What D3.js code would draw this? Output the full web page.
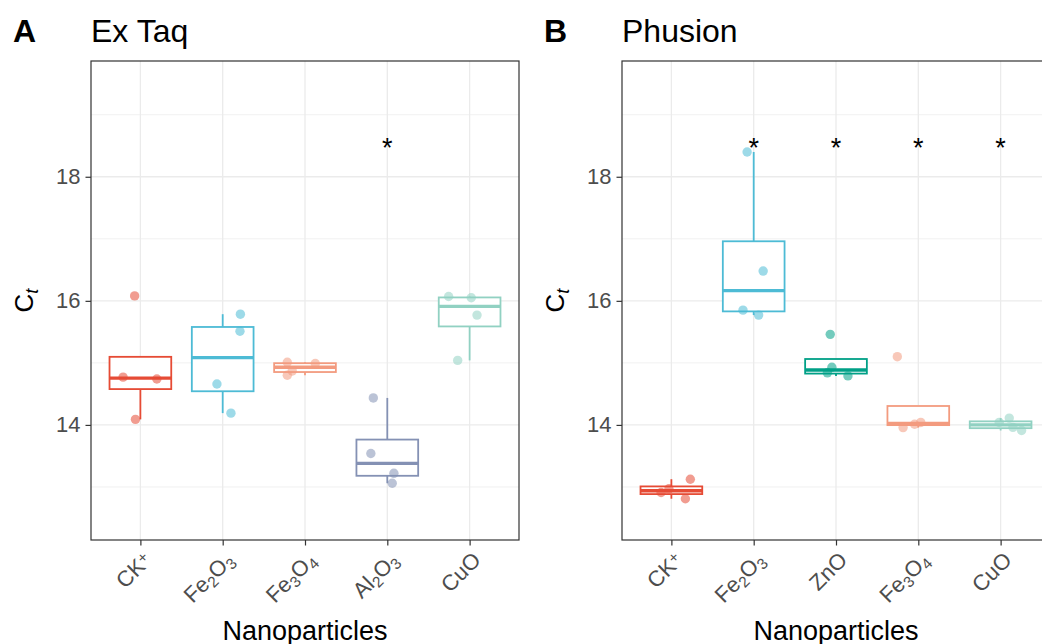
<!DOCTYPE html>
<html>
<head>
<meta charset="utf-8">
<script src="https://cdn.jsdelivr.net/npm/d3@7"></script>
<style>
  body { margin: 0; background: #fff; }
  text { font-family: "Liberation Sans", Arial, sans-serif; }
</style>
</head>
<body>
<svg id="chart" width="1042" height="644"></svg>
<script>
// panel A: Ex Taq
const catsA = ["CK+", "Fe2O3", "Fe3O4", "Al2O3", "CuO"];
const ctA = [
  [16.08, 14.77, 14.74, 14.09],
  [15.785, 15.51, 14.66, 14.19],
  [15.01, 14.99, 14.87, 14.80],
  [14.435, 13.54, 13.22, 13.06],
  [16.07, 16.05, 15.77, 15.04]
];
// horizontal jitter of the points, in category widths
const jitA = [
  [-0.07, -0.21, 0.20, -0.06],
  [0.215, 0.21, -0.07, 0.10],
  [-0.215, 0.125, -0.155, -0.215],
  [-0.17, -0.20, 0.08, 0.06],
  [-0.255, 0.02, 0.09, -0.145]
];
const sigA = [false, false, false, true, false];
const colA = ["#E64B35", "#4DBBD5", "#F39B7F", "#8491B4", "#91D1C2"];

// panel B: Phusion
const catsB = ["CK+", "Fe2O3", "ZnO", "Fe3O4", "CuO"];
const ctB = [
  [12.91, 13.125, 12.81, 12.97],
  [18.40, 16.48, 15.85, 15.77],
  [15.46, 14.93, 14.84, 14.79],
  [15.10, 13.957, 14.01, 14.04],
  [14.11, 14.04, 13.96, 13.91]
];
const jitB = [
  [-0.125, 0.23, 0.17, -0.03],
  [-0.08, 0.115, -0.13, 0.06],
  [-0.07, -0.05, -0.105, 0.145],
  [-0.255, -0.185, -0.045, 0.03],
  [0.105, -0.017, 0.15, 0.255]
];
const sigB = [false, true, true, true, true];
const colB = ["#E64B35", "#4DBBD5", "#00A087", "#F39B7F", "#91D1C2"];

const yTicks = [14, 16, 18];
const yMinor = [13, 15, 17, 19];
const yDomain = [12.145, 19.866];
const sigLevel = 18.56;

const svg = d3.select("#chart");
const plotTop = 61, plotBottom = 540, plotW = 428;
const y = d3.scaleLinear().domain(yDomain).range([plotBottom, plotTop]);

// tick label with digits as subscripts and "+" raised
function richLabel(sel, s, size) {
  for (const ch of s) {
    const t = sel.append("tspan").text(ch);
    if (/[0-9]/.test(ch)) {
      t.attr("font-size", size * 0.7).attr("baseline-shift", "-25%");
    } else if (ch === "+") {
      t.attr("font-size", size * 0.7).attr("baseline-shift", "35%");
    }
  }
}

function boxStats(v) {
  const s = v.slice().sort(d3.ascending);
  const q1 = d3.quantile(s, 0.25), med = d3.quantile(s, 0.5), q3 = d3.quantile(s, 0.75);
  const iqr = q3 - q1;
  const lo = d3.min(s.filter(d => d >= q1 - 1.5 * iqr));
  const hi = d3.max(s.filter(d => d <= q3 + 1.5 * iqr));
  return { q1, med, q3, lo, hi };
}

function panel(x0, cats, vals, jit, sig, cols, tag, title) {
  const g = svg.append("g");
  const x = d3.scalePoint().domain(cats).range([x0, x0 + plotW]).padding(0.6);
  const step = x.step();
  const bw = step * 0.75;

  // grid
  g.selectAll(".minor").data(yMinor).join("line")
    .attr("x1", x0).attr("x2", x0 + plotW)
    .attr("y1", d => y(d)).attr("y2", d => y(d))
    .attr("stroke", "#EBEBEB").attr("stroke-width", 0.7);
  g.selectAll(".major").data(yTicks).join("line")
    .attr("x1", x0).attr("x2", x0 + plotW)
    .attr("y1", d => y(d)).attr("y2", d => y(d))
    .attr("stroke", "#EBEBEB").attr("stroke-width", 1.3);
  g.selectAll(".vmajor").data(cats).join("line")
    .attr("x1", d => x(d)).attr("x2", d => x(d))
    .attr("y1", plotTop).attr("y2", plotBottom)
    .attr("stroke", "#EBEBEB").attr("stroke-width", 1.3);

  // boxes
  cats.forEach((c, i) => {
    const st = boxStats(vals[i]);
    const cx = x(c);
    const bg = g.append("g").attr("stroke", cols[i]).attr("fill", "white");
    bg.append("line").attr("x1", cx).attr("x2", cx)
      .attr("y1", y(st.q3)).attr("y2", y(st.hi)).attr("stroke-width", 1.8);
    bg.append("line").attr("x1", cx).attr("x2", cx)
      .attr("y1", y(st.q1)).attr("y2", y(st.lo)).attr("stroke-width", 1.8);
    bg.append("rect").attr("x", cx - bw / 2).attr("width", bw)
      .attr("y", y(st.q3)).attr("height", y(st.q1) - y(st.q3))
      .attr("stroke-width", 1.8);
    bg.append("line").attr("x1", cx - bw / 2).attr("x2", cx + bw / 2)
      .attr("y1", y(st.med)).attr("y2", y(st.med)).attr("stroke-width", 3.4);
  });

  // jittered points
  cats.forEach((c, i) => {
    g.selectAll(null).data(vals[i]).join("circle")
      .attr("cx", (d, j) => x(c) + jit[i][j] * step)
      .attr("cy", d => y(d))
      .attr("r", 4.7)
      .attr("fill", cols[i]).attr("fill-opacity", 0.55);
  });

  // significance marks
  g.selectAll(".sig").data(cats.filter((c, i) => sig[i])).join("text")
    .attr("x", d => x(d)).attr("y", y(sigLevel) + 15)
    .attr("text-anchor", "middle").attr("font-size", 27).attr("fill", "#000")
    .text("*");

  // panel border
  g.append("rect").attr("x", x0).attr("y", plotTop).attr("width", plotW).attr("height", plotBottom - plotTop)
    .attr("fill", "none").attr("stroke", "#333333").attr("stroke-width", 1.2);

  // y axis
  const ya = g.append("g").attr("transform", `translate(${x0},0)`)
    .call(d3.axisLeft(y).tickValues(yTicks).tickSize(5.5).tickPadding(5));
  ya.select(".domain").remove();
  ya.selectAll(".tick line").attr("stroke", "#333333").attr("stroke-width", 1.2);
  ya.selectAll(".tick text").attr("fill", "#4D4D4D").attr("font-size", 22)
    .attr("font-family", "Liberation Sans, Arial, sans-serif");

  // x axis
  const xa = g.append("g").attr("transform", `translate(0,${plotBottom})`)
    .call(d3.axisBottom(x).tickSize(5.5).tickFormat(""));
  xa.select(".domain").remove();
  xa.selectAll(".tick line").attr("stroke", "#333333").attr("stroke-width", 1.2);
  xa.selectAll(".tick text").remove();
  cats.forEach(c => {
    const t = g.append("text")
      .attr("transform", `translate(${x(c) + 12.5},${561.5}) rotate(-45)`)
      .attr("text-anchor", "end").attr("font-size", 22).attr("fill", "#4D4D4D");
    richLabel(t, c, 22);
  });

  // axis titles
  g.append("text").attr("x", x0 + plotW / 2).attr("y", 640)
    .attr("text-anchor", "middle").attr("font-size", 27).attr("fill", "#000")
    .text("Nanoparticles");
  const yt = g.append("text")
    .attr("transform", `translate(${x0 - 58},${(plotTop + plotBottom) / 2}) rotate(-90)`)
    .attr("text-anchor", "middle").attr("font-size", 26).attr("fill", "#000");
  yt.append("tspan").text("C");
  yt.append("tspan").text("t").attr("font-style", "italic")
    .attr("font-size", 18).attr("baseline-shift", "-25%");

  // titles
  g.append("text").attr("x", x0 - 78).attr("y", 41.5)
    .attr("font-size", 32).attr("font-weight", "bold").attr("fill", "#000").text(tag);
  g.append("text").attr("x", x0).attr("y", 41.5)
    .attr("font-size", 32).attr("fill", "#000").text(title);
}

panel(91, catsA, ctA, jitA, sigA, colA, "A", "Ex Taq");
panel(622, catsB, ctB, jitB, sigB, colB, "B", "Phusion");
</script>
</body>
</html>
